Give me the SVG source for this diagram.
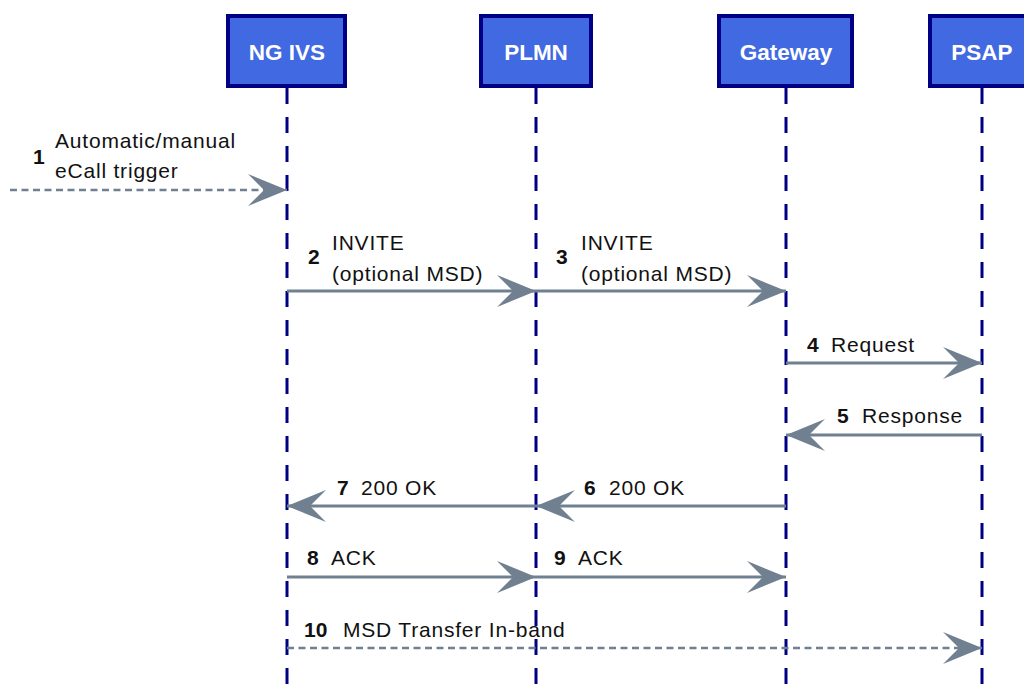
<svg xmlns="http://www.w3.org/2000/svg" width="1024" height="693" viewBox="0 0 1024 693">
  <style>
    .box { fill: #4169e1; stroke: #000085; stroke-width: 4; }
    .name { font-family: "Liberation Sans", Arial, sans-serif; font-size: 22.5px; font-weight: bold; fill: #ffffff; text-anchor: middle; }
    .life { stroke: #000085; stroke-width: 3; stroke-dasharray: 16 13; fill: none; }
    .msg { stroke: #708090; stroke-width: 3; fill: none; }
    .async { stroke: #708090; stroke-width: 2.5; stroke-dasharray: 7 4.5; fill: none; }
    .lbl { font-family: "Liberation Sans", Arial, sans-serif; font-size: 21px; letter-spacing: 0.8px; fill: #111111; }
    .num { font-family: "Liberation Sans", Arial, sans-serif; font-size: 21px; font-weight: bold; fill: #111111; }
  </style>
  <defs>
    <marker id="head" viewBox="-40 -17 41 34" refX="0" refY="0" markerWidth="41" markerHeight="34" markerUnits="userSpaceOnUse" orient="auto">
      <path d="M0,0 L-39,-16 L-23,0 L-39,16 Z" fill="#708090"/>
    </marker>
  </defs>
  <rect width="1024" height="693" fill="#ffffff"/>

  <!-- participants -->
  <g id="ng-ivs">
    <rect class="box" x="228" y="16" width="117" height="70"/>
    <text class="name" x="287" y="60">NG IVS</text>
    <line class="life" x1="287" y1="88" x2="287" y2="693"/>
  </g>
  <g id="plmn">
    <rect class="box" x="481" y="16" width="110" height="70"/>
    <text class="name" x="536" y="60">PLMN</text>
    <line class="life" x1="536" y1="88" x2="536" y2="693"/>
  </g>
  <g id="gateway">
    <rect class="box" x="719" y="16" width="133" height="70"/>
    <text class="name" x="786" y="60">Gateway</text>
    <line class="life" x1="786" y1="88" x2="786" y2="693"/>
  </g>
  <g id="psap">
    <rect class="box" x="930" y="16" width="104" height="70"/>
    <text class="name" x="982" y="60">PSAP</text>
    <line class="life" x1="982" y1="88" x2="982" y2="693"/>
  </g>

  <!-- messages -->
  <g id="connectors">
    <line class="async" x1="10" y1="190" x2="287" y2="190" marker-end="url(#head)"/>
    <line class="msg" x1="287" y1="291" x2="536" y2="291" marker-end="url(#head)"/>
    <line class="msg" x1="536" y1="291" x2="786" y2="291" marker-end="url(#head)"/>
    <line class="msg" x1="786" y1="363" x2="982" y2="363" marker-end="url(#head)"/>
    <line class="msg" x1="982" y1="435" x2="786" y2="435" marker-end="url(#head)"/>
    <line class="msg" x1="786" y1="506" x2="536" y2="506" marker-end="url(#head)"/>
    <line class="msg" x1="536" y1="506" x2="287" y2="506" marker-end="url(#head)"/>
    <line class="msg" x1="287" y1="577" x2="536" y2="577" marker-end="url(#head)"/>
    <line class="msg" x1="536" y1="577" x2="786" y2="577" marker-end="url(#head)"/>
    <line class="async" x1="287" y1="648" x2="982" y2="648" marker-end="url(#head)"/>
  </g>

  <!-- message labels -->
  <g id="labels">
    <text class="num" x="33" y="164">1</text>
    <text class="lbl" x="55" y="148">Automatic/manual</text>
    <text class="lbl" x="55" y="178">eCall trigger</text>

    <text class="num" x="308" y="264">2</text>
    <text class="lbl" x="332" y="250">INVITE</text>
    <text class="lbl" x="332" y="281">(optional MSD)</text>

    <text class="num" x="556" y="264">3</text>
    <text class="lbl" x="581" y="250">INVITE</text>
    <text class="lbl" x="581" y="281">(optional MSD)</text>

    <text class="num" x="807" y="352">4</text>
    <text class="lbl" x="831" y="352">Request</text>

    <text class="num" x="837" y="423">5</text>
    <text class="lbl" x="862" y="423">Response</text>

    <text class="num" x="584" y="495">6</text>
    <text class="lbl" x="609" y="495">200 OK</text>

    <text class="num" x="337" y="495">7</text>
    <text class="lbl" x="361" y="495">200 OK</text>

    <text class="num" x="307" y="565">8</text>
    <text class="lbl" x="331" y="565">ACK</text>

    <text class="num" x="554" y="565">9</text>
    <text class="lbl" x="578" y="565">ACK</text>

    <text class="num" x="304" y="637">10</text>
    <text class="lbl" x="343" y="637">MSD Transfer In-band</text>
  </g>
</svg>
